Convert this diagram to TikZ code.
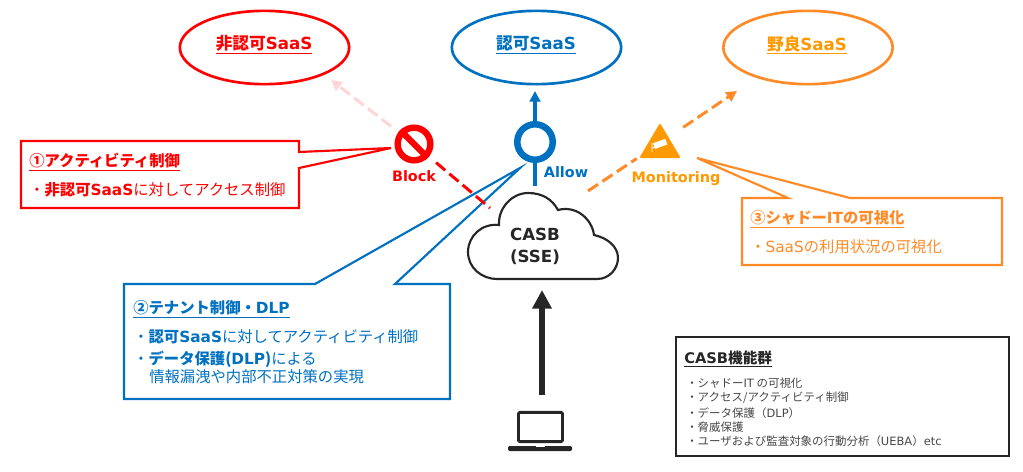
\documentclass[tikz,border=0pt]{standalone}
\usepackage{fontspec}
\setmainfont{Noto Sans CJK JP}
\newfontfamily\en{DejaVu Sans}
\usetikzlibrary{arrows.meta,calc,shapes.geometric}
\definecolor{nored}{HTML}{FF0000}
\definecolor{okblue}{HTML}{0070C0}
\definecolor{roguefg}{HTML}{FF9900}
\definecolor{rogueline}{HTML}{FF8A26}
\definecolor{softred}{HTML}{FFD5D5}
\definecolor{inkdark}{HTML}{262626}
\tikzset{
  saas/.style={ellipse,draw,line width=2pt,minimum width=127pt,minimum height=55pt,inner sep=0pt},
  saaslabel/.style={font=\fontsize{12.5}{15}\selectfont\bfseries,inner sep=0pt},
  badge/.style={font=\fontsize{10.8}{14}\selectfont\en\bfseries,inner sep=0pt},
  head/.style={anchor=west,inner sep=0pt,font=\fontsize{11.5}{14}\selectfont\bfseries},
  item/.style={anchor=west,inner sep=0pt,font=\fontsize{11.5}{14}\selectfont},
  small/.style={anchor=west,inner sep=0pt,text=inkdark!85,font=\fontsize{8.6}{10}\selectfont},
  outline/.style={line width=1.6pt,line join=miter},
  dashline/.style={line width=2.2pt,dash pattern=on 9pt off 4pt}
}
\begin{document}
\begin{tikzpicture}[x=0.75pt,y=-0.75pt]
  \useasboundingbox (0,0) rectangle (1023,471);

  % SaaS ellipses
  \node[saas,draw=nored] (unauth) at (264.5,47.5) {};
  \node[saas,draw=okblue] (auth) at (536.5,47.5) {};
  \node[saas,draw=rogueline] (rogue) at (808,47.5) {};
  \node[saaslabel,text=nored] (unauthtext) at (264,45) {\underline{非認可{\en SaaS}}};
  \node[saaslabel,text=okblue] (authtext) at (536,45) {\underline{認可{\en SaaS}}};
  \node[saaslabel,text=roguefg] (roguetext) at (807,45) {\underline{野良{\en SaaS}}};

  % callout 2 goes under the dashes
  \coordinate (tenanttip) at (520,168);
  \coordinate (tenanta) at (315,284);
  \coordinate (tenantb) at (395,284);
  \draw[outline,draw=okblue] (124,284) -- (tenanta) -- (tenanttip) -- (tenantb)
    -- (450,284) -- (450,399) -- (124,399) -- cycle;
  \node[head,text=okblue] (tenanthead) at (133,309) {\underline{②テナント制御・{\en DLP}}};
  \node[item,text=okblue] (tenantone) at (133,337) {・{\bfseries 認可{\en SaaS}}に対してアクティビティ制御};
  \node[item,text=okblue] (tenanttwo) at (133,359) {・{\bfseries データ保護({\en DLP})}による};
  \node[item,text=okblue] (tenantthree) at (149,377) {情報漏洩や内部不正対策の実現};

  % block
  \node[circle,draw=nored,line width=4.8pt,minimum size=24.5pt,inner sep=0pt] (block) at (414,144) {};
  \draw[nored,line width=4.6pt] (block.north west) -- (block.south east);
  \node[badge,text=nored] (blocktext) at (414,176) {Block};
  \coordinate (blocktip) at (331,80);
  \coordinate (blockfoot) at (490,208);
  \draw[softred,dashline,-{Triangle[length=8pt,width=8pt]},shorten <=7pt] (block) -- (blocktip);
  \draw[nored,dashline,shorten <=7pt] (block) -- (blockfoot);

  % allow
  \node[circle,draw=okblue,line width=4.9pt,minimum size=26.6pt,inner sep=0pt] (allow) at (535,142) {};
  \coordinate (allowtip) at (535,91);
  \coordinate (allowfoot) at (535,186);
  \draw[okblue,line width=2.4pt,-{Triangle[length=8pt,width=8pt]}] (allow) -- (allowtip);
  \draw[okblue,line width=2.4pt] (allow) -- (allowfoot);
  \node[badge,text=okblue] (allowtext) at (566,172) {Allow};

  % monitoring
  \coordinate (cam) at (660,143);
  \coordinate (monfoot) at (588,191);
  \coordinate (montip) at (737,91);
  \draw[rogueline,dashline,shorten >=21pt] (monfoot) -- (cam);
  \draw[rogueline,dashline,shorten <=21pt,-{Triangle[length=8pt,width=8pt]}] (cam) -- (montip);
  \fill[roguefg,draw=roguefg,line width=1.5pt,line join=round] (660,125) -- (679,157) -- (641,157) -- cycle;
  \fill[white,rotate around={20:(660,145)}] (654,141) rectangle (667,147);
  \draw[white,line width=0.7pt] (652,143) -- (652,152) (652,148) -- (657,146);
  \node[badge,text=roguefg] (montext) at (676,179) {Monitoring};

  % callout 1
  \coordinate (ctrltip) at (391,148);
  \coordinate (ctrla) at (299,152);
  \coordinate (ctrlb) at (299,168);
  \draw[outline,draw=nored] (21,141) -- (299,141) -- (ctrla) -- (ctrltip) -- (ctrlb)
    -- (299,208) -- (21,208) -- cycle;
  \node[head,text=nored] (ctrlhead) at (29,162) {\underline{①アクティビティ制御}};
  \node[item,text=nored] (ctrlone) at (29,190) {・{\bfseries 非認可{\en SaaS}}に対してアクセス制御};

  % callout 3
  \coordinate (shadowtip) at (697,158);
  \coordinate (shadowa) at (788,198);
  \coordinate (shadowb) at (850,198);
  \draw[outline,draw=rogueline] (742,198) -- (shadowa) -- (shadowtip) -- (shadowb)
    -- (1002,198) -- (1002,265) -- (742,265) -- cycle;
  \node[head,text=rogueline] (shadowhead) at (750,219) {\underline{③シャドー{\en IT}の可視化}};
  \node[item,text=rogueline] (shadowone) at (750,247) {・{\en SaaS}の利用状況の可視化};

  % cloud
  \draw[inkdark,line width=1.6pt,fill=white] (497,279) -- (597,279)
    .. controls (610,279) and (618,268) .. (618,258)
    .. controls (618,247) and (608,238) .. (594,235)
    .. controls (592,219) and (576,205) .. (558,210)
    .. controls (552,199) and (542,193) .. (528,193)
    .. controls (512,193) and (498,208) .. (499,225)
    .. controls (482,223) and (468,236) .. (468,252)
    .. controls (468,268) and (482,279) .. (497,279) -- cycle;
  \node[align=center,inner sep=0pt,text=inkdark,font=\fontsize{12.5}{16.5}\selectfont\en\bfseries] (casb) at (535,246) {CASB\\(SSE)};

  % laptop and arrow
  \node[draw=inkdark,line width=2.2pt,rounded corners=1pt,minimum width=33pt,minimum height=22pt,inner sep=0pt] (laptop) at (540.5,427) {};
  \fill[inkdark,rounded corners=1pt] (508,446) rectangle (572,451);
  \fill[white] (536,446) rectangle (545,447.2);
  \coordinate (usertip) at (542,290);
  \coordinate (userfoot) at (542,395);
  \draw[inkdark,line width=5pt,-{Triangle[length=14pt,width=14pt]}] (userfoot) -- (usertip);

  % function list
  \node[draw=inkdark,line width=1.6pt,minimum width=249.75pt,minimum height=89.25pt,inner sep=0pt] (funcbox) at (842.5,396.5) {};
  \node[anchor=west,inner sep=0pt,text=inkdark,font=\fontsize{11}{13}\selectfont\bfseries] (funchead) at (684,359) {\underline{{\en CASB}機能群}};
  \node[small] (funcone) at (686,383) {・シャドー{\en IT} の可視化};
  \node[small] (functwo) at (686,398) {・アクセス/アクティビティ制御};
  \node[small] (functhree) at (686,413) {・データ保護（{\en DLP}）};
  \node[small] (funcfour) at (686,427) {・脅威保護};
  \node[small] (funcfive) at (686,441) {・ユーザおよび監査対象の行動分析（{\en UEBA}）{\en etc}};
\end{tikzpicture}
\end{document}
